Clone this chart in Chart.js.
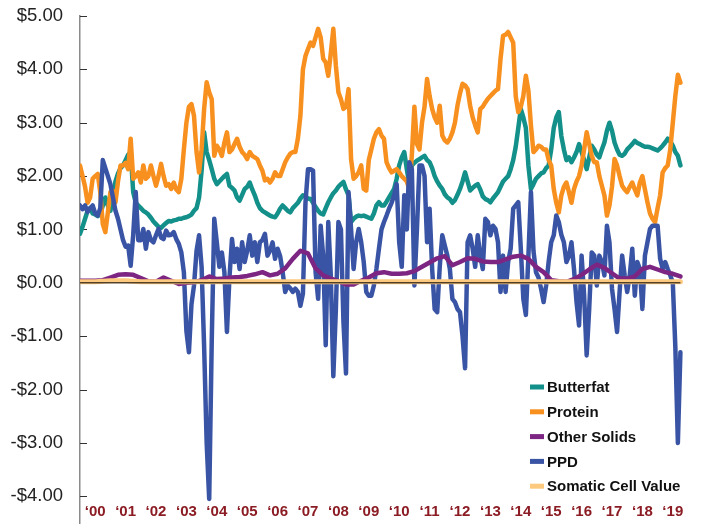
<!DOCTYPE html>
<html><head><meta charset="utf-8">
<script src="https://cdn.jsdelivr.net/npm/chart.js@4.4.1/dist/chart.umd.min.js"></script>
<style>html,body{margin:0;padding:0;background:#fff;}#wrap{width:701px;height:525px;position:relative;}</style>
</head><body><div id="wrap"><canvas id="c"></canvas></div>
<script>
// x categories (year labels); monthly series start Jan 2000
const yearLabels = ['‘00','‘01','‘02','‘03','‘04','‘05','‘06','‘07','‘08','‘09','‘10','‘11','‘12','‘13','‘14','‘15','‘16','‘17','‘18','‘19'];
const seriesNames = ['Butterfat','Protein','Other Solids','PPD','Somatic Cell Value'];

// monthly values, $/cwt
const butterfat = [
0.92,1.05,1.2,1.35,1.4,1.3,1.28,1.25,1.3,1.45,1.6,1.45,
1.35,1.6,1.9,2.05,2.15,2.2,2.3,2.4,2.45,1.7,1.5,1.45,
1.4,1.35,1.32,1.28,1.22,1.15,1.1,1.05,1.03,1.08,1.12,1.16,
1.15,1.17,1.18,1.2,1.2,1.22,1.23,1.25,1.28,1.35,1.4,1.6,
2.1,2.82,2.45,2.3,2.13,1.95,1.85,1.9,1.95,2.0,2.04,1.82,
1.78,1.73,1.6,1.54,1.65,1.76,1.8,1.88,1.75,1.64,1.5,1.4,
1.35,1.32,1.29,1.26,1.24,1.23,1.3,1.39,1.45,1.4,1.35,1.32,
1.4,1.45,1.5,1.58,1.64,1.62,1.58,1.57,1.5,1.42,1.35,1.3,
1.28,1.4,1.51,1.6,1.68,1.73,1.8,1.85,1.89,1.75,1.64,1.14,
1.2,1.24,1.26,1.25,1.26,1.24,1.22,1.2,1.3,1.45,1.51,1.45,
1.45,1.52,1.6,1.68,1.76,1.95,2.2,2.35,2.45,2.13,1.85,2.2,
2.25,2.29,2.32,2.35,2.38,2.3,2.26,2.15,2.0,1.9,1.82,1.76,
1.66,1.6,1.57,1.5,1.55,1.65,1.76,1.9,2.07,1.9,1.73,1.78,
1.82,1.85,1.75,1.62,1.57,1.55,1.51,1.58,1.64,1.7,1.8,1.9,
1.95,2.0,2.13,2.3,2.55,2.9,3.26,3.1,2.9,2.2,1.76,1.85,
1.95,2.0,2.05,2.07,2.15,2.2,2.5,2.9,3.1,3.2,2.75,2.5,
2.3,2.35,2.26,2.35,2.45,2.6,2.45,2.3,2.13,2.35,2.57,2.5,
2.4,2.35,2.5,2.63,2.85,3.0,2.85,2.63,2.5,2.4,2.38,2.42,
2.5,2.55,2.6,2.66,2.62,2.6,2.57,2.55,2.55,2.54,2.52,2.5,
2.48,2.52,2.57,2.63,2.7,2.65,2.57,2.45,2.38,2.2];

const protein = [
2.2,2.0,1.8,1.5,1.6,1.95,2.0,2.04,1.7,1.1,0.95,1.32,
1.7,1.72,1.51,1.9,2.2,2.2,2.25,2.13,2.7,1.95,2.0,2.07,
1.88,2.2,1.95,2.0,2.2,2.0,1.82,2.0,2.23,2.0,1.82,1.85,
1.76,1.88,1.75,1.7,1.95,2.5,3.0,3.3,3.35,3.13,2.45,2.07,
2.5,3.26,3.76,3.57,3.44,2.38,2.57,2.5,2.38,2.63,2.82,2.45,
2.5,2.6,2.7,2.55,2.45,2.4,2.32,2.45,2.38,2.35,2.32,2.2,
2.1,1.92,1.95,1.88,1.95,2.07,2.0,2.0,2.13,2.26,2.35,2.42,
2.45,2.45,2.7,3.13,4.0,4.25,4.38,4.5,4.44,4.6,4.76,4.6,
4.2,4.13,3.88,4.3,4.76,4.07,3.57,3.44,3.26,3.3,3.63,2.32,
1.95,2.0,2.07,2.2,1.76,1.73,2.3,2.5,2.7,2.82,2.88,2.76,
2.7,2.26,2.15,2.07,2.1,2.13,2.07,2.0,1.95,1.9,1.76,2.4,
3.3,2.6,2.5,3.0,3.3,3.82,3.5,3.26,3.1,3.0,3.32,2.76,
2.67,2.63,2.7,2.82,3.0,3.32,3.55,3.73,3.7,3.63,3.32,3.1,
2.95,2.82,3.26,3.3,3.38,3.45,3.5,3.55,3.6,3.63,4.2,4.63,
4.65,4.7,4.6,4.5,3.5,3.2,3.3,3.5,3.88,3.6,2.95,2.45,
2.5,2.57,2.55,2.5,2.5,2.3,2.2,1.76,1.5,1.32,1.64,1.8,
1.88,1.7,1.5,1.76,1.9,2.0,2.2,2.5,2.82,2.6,2.38,2.26,
2.26,2.0,1.82,1.64,1.26,1.45,1.8,2.32,2.2,2.0,1.82,1.75,
1.7,1.8,1.88,1.75,1.64,1.88,2.0,1.75,1.51,1.3,1.2,1.14,
1.4,1.64,2.07,2.15,2.2,2.5,3.0,3.5,3.9,3.75];

const ppd = [
1.45,1.38,1.45,1.33,1.4,1.45,1.3,1.26,1.4,2.3,2.15,2.0,
1.85,1.6,1.35,1.2,1.0,0.8,0.68,0.7,0.32,0.9,1.7,0.8,
0.8,1.01,0.64,0.95,0.8,0.76,0.89,1.01,0.85,0.82,0.98,0.89,
0.9,0.95,0.82,0.73,0.57,0.2,-0.9,-1.3,-0.4,-0.05,0.6,0.89,
0.3,-1.2,-3.0,-4.05,-1.1,1.2,0.76,0.3,0.57,0.2,-0.92,0.1,
0.82,0.39,0.64,0.26,0.76,0.39,0.6,0.89,0.51,0.76,0.39,0.76,
0.8,0.92,0.51,0.6,0.76,0.45,0.64,0.5,0.2,-0.17,-0.05,-0.1,
-0.17,-0.11,-0.17,-0.43,-0.2,1.5,2.13,2.13,2.1,0.2,-0.3,1.07,
0.5,-1.17,1.14,0.14,-1.75,-0.5,1.14,1.0,-0.74,-1.7,1.7,1.0,
0.26,0.76,1.01,0.76,0.39,-0.17,-0.24,-0.24,-0.05,0.26,0.64,1.0,
1.14,1.26,1.39,1.5,1.64,1.85,0.76,0.3,1.64,1.0,2.26,2.13,
-0.05,1.0,2.2,2.2,2.0,0.76,1.39,0.26,-0.49,-0.55,0.3,0.89,
0.7,0.51,0.26,-0.3,-0.36,-0.49,-0.55,-1.0,-1.6,0.76,0.89,0.64,
0.3,0.89,0.5,0.26,1.2,1.14,0.89,1.07,1.01,0.76,-0.17,0.51,
-0.17,0.39,0.64,1.39,1.45,1.51,0.64,-0.3,-0.6,0.5,1.7,0.6,
0.2,0.1,-0.11,-0.36,-0.05,0.4,0.76,0.89,1.26,1.14,0.9,0.76,
0.39,0.5,0.76,0.26,-0.36,-0.8,0.51,-0.24,-1.36,-0.49,0.57,0.51,
-0.05,0.51,0.39,0.14,1.07,0.76,-0.11,-0.49,-0.92,-0.17,0.51,0.14,
-0.17,0.14,0.64,-0.24,0.39,0.26,-0.49,0.51,0.76,1.01,1.07,1.07,
1.07,0.45,0.26,0.39,0.26,0.14,0.0,-1.2,-3.0,-1.3];

// quarterly values
const otherSolids = [
0.04,0.04,0.04,0.05, 0.1,0.15,0.16,0.15, 0.09,0.03,0.02,0.1, 0.04,-0.02,0.0,0.01,
0.05,0.12,0.07,0.08, 0.1,0.11,0.13,0.16, 0.2,0.14,0.17,0.27, 0.45,0.6,0.55,0.27,
0.14,0.08,0.03,-0.03, -0.03,0.04,0.1,0.18, 0.2,0.17,0.17,0.18, 0.22,0.3,0.38,0.46,
0.5,0.33,0.39,0.46, 0.45,0.4,0.39,0.39, 0.44,0.49,0.51,0.45, 0.3,0.2,0.05,0.03,
0.02,0.07,0.15,0.25, 0.34,0.28,0.18,0.08, 0.08,0.12,0.26,0.3, 0.25,0.2,0.17,0.12];

const somatic = [
0.02,0.02,0.02,0.03, 0.04,0.04,0.04,0.03, 0.02,0.02,0.02,0.02, 0.02,0.02,0.02,0.02,
0.02,0.02,0.02,0.02, 0.02,0.02,0.02,0.02, 0.02,0.02,0.02,0.02, 0.02,0.02,0.02,0.02,
0.02,0.02,0.02,0.02, 0.02,0.02,0.02,0.02, 0.02,0.02,0.02,0.02, 0.02,0.02,0.02,0.02,
0.02,0.02,0.02,0.02, 0.02,0.02,0.02,0.02, 0.02,0.02,0.02,0.02, 0.02,0.02,0.02,0.02,
0.02,0.02,0.02,0.02, 0.02,0.02,0.02,0.02, 0.02,0.02,0.02,0.02, 0.02,0.02,0.02,0.02];

const yMin = -4.5, yMax = 5;

const colors = {
  'Butterfat':'#14908a', 'Protein':'#f7901e', 'Other Solids':'#7d2582',
  'PPD':'#3a54a5', 'Somatic Cell Value':'#fdc97f'
};

const monthly = a => a.map((v,i)=>({x:i/12, y:v}));
const quarterly = a => a.map((v,i)=>({x:i/4, y:v}));
const lastX = (butterfat.length-1)/12;

function ds(label, data, order, width){
  return {label, data, order, borderColor: colors[label], backgroundColor: colors[label],
    borderWidth: width, pointRadius:0, tension:0, borderJoinStyle:'round', borderCapStyle:'round', fill:false};
}

const datasets = [
  ds('Butterfat', monthly(butterfat), 5, 4.5),
  ds('Protein', monthly(protein), 4, 4.5),
  ds('Other Solids', quarterly(otherSolids), 2, 4.5),
  ds('PPD', monthly(ppd), 3, 4.5),
  ds('Somatic Cell Value', quarterly(somatic), 1, 5),
  {label:'zero', data:[{x:0,y:0},{x:lastX,y:0}], order:0, borderColor:'#000', borderWidth:1, pointRadius:0}
];

const legendPlugin = {
  id:'customLegend',
  afterDraw(chart, args, o){
    const ctx = chart.ctx;
    ctx.save();
    ctx.font = 'bold 15px "Liberation Sans", Arial, sans-serif';
    ctx.textBaseline = 'middle';
    ctx.textAlign = 'left';
    seriesNames.forEach((name,i)=>{
      const y = o.top + i*o.gap;
      ctx.fillStyle = colors[name];
      ctx.fillRect(o.left, y-2.5, 14, 5);
      ctx.fillStyle = '#111';
      ctx.fillText(name, o.left+17, y+1);
    });
    ctx.restore();
  }
};

const innerTicks = {
  id:'innerTicks',
  beforeDatasetsDraw(chart){
    const s = chart.scales.y, ctx = chart.ctx, L = chart.chartArea.left;
    ctx.save();
    ctx.strokeStyle = '#333'; ctx.lineWidth = 1;
    s.ticks.forEach(t=>{
      const py = Math.round(s.getPixelForValue(t.value))+0.5;
      ctx.beginPath(); ctx.moveTo(L, py); ctx.lineTo(L+7, py); ctx.stroke();
    });
    ctx.restore();
  }
};

Chart.defaults.font.family = '"Liberation Sans", Arial, sans-serif';

new Chart(document.getElementById('c'), {
  type:'line',
  data:{datasets},
  plugins:[legendPlugin, innerTicks],
  options:{
    responsive:true, maintainAspectRatio:false, animation:false,
    layout:{padding:{top:16, right:13, bottom:2, left:0}},
    plugins:{
      legend:{display:false}, tooltip:{enabled:false},
      customLegend:{left:530, top:387, gap:24.8}
    },
    scales:{
      x:{
        type:'linear', min:0, max:20,
        position:{y:-4.12},
        grid:{display:false, drawTicks:false}, border:{display:false},
        afterBuildTicks: s => { s.ticks = yearLabels.map((_,i)=>({value:i+0.5})); },
        afterFit: s => { s.height = 0; s.paddingLeft = 0; s.paddingRight = 0; s.paddingTop = 0; s.paddingBottom = 0; },
        ticks:{autoSkip:false, maxRotation:0, padding:0, color:'#8b1c24',
          font:{size:15, weight:'bold'},
          callback: v => yearLabels[Math.floor(v)]}
      },
      y:{
        min:yMin, max:yMax,
        grid:{display:false, drawTicks:false},
        border:{display:true, color:'#8a8a8a', width:1.5},
        afterBuildTicks: s => { s.ticks = s.ticks.filter(t=>Number.isInteger(t.value)); },
        afterFit: s => { s.width = 80; s.paddingTop = 0; s.paddingBottom = 0; },
        ticks:{stepSize:1, padding:17, color:'#222', font:{size:18.5},
          callback: v => (v<0?'-':'') + '$' + Math.abs(v).toFixed(2)}
      }
    }
  }
});
</script></body></html>
